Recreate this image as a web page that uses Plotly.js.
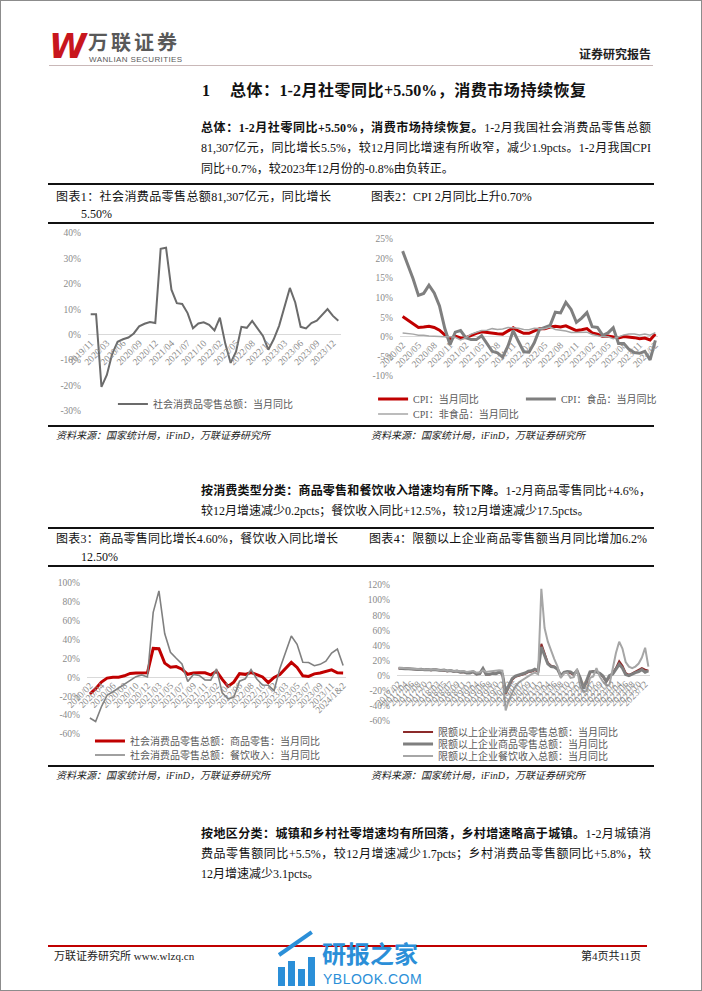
<!DOCTYPE html>
<html><head><meta charset="utf-8">
<script src="https://cdn.plot.ly/plotly-3.0.1.min.js"></script>
<style>
html,body{margin:0;padding:0;background:#fff;}
#page{position:relative;width:702px;height:991px;box-sizing:border-box;border:1px solid #8c8c8c;overflow:hidden;font-family:"Liberation Serif","Noto Sans CJK SC",serif;color:#111;}
.t{position:absolute;white-space:nowrap;}
.j{position:absolute;text-align:justify;text-align-last:justify;}
.rule{position:absolute;left:47px;width:606px;height:2px;background:#111;}
.chart{position:absolute;}
.src{position:absolute;font-size:10px;font-style:italic;line-height:14px;color:#222;white-space:nowrap;}
</style></head>
<body>
<div id="page">
  <!-- header -->
  <div class="t" style="left:48px;top:26px;font-family:'DejaVu Sans';font-weight:bold;font-style:italic;font-size:34px;line-height:38px;color:#c8161d;letter-spacing:-2px;">W</div>
  <div class="t" style="left:87px;top:31px;font-family:'Noto Sans CJK SC';font-weight:bold;font-size:20px;line-height:20px;height:20px;color:#595959;letter-spacing:3px;">万联证券</div>
  <div class="t" style="left:88px;top:55px;font-family:'Liberation Sans';font-size:8px;line-height:8px;height:8px;color:#595959;letter-spacing:0.4px;">WANLIAN SECURITIES</div>
  <div class="t" style="left:578px;top:45px;font-family:'Noto Sans CJK SC';font-weight:bold;font-size:12px;line-height:15px;color:#222;">证券研究报告</div>
  <div style="position:absolute;left:48px;top:64px;width:604px;height:1px;background:#c9b8b8;"></div>

  <!-- section heading -->
  <div class="t" style="left:201px;top:81px;font-size:16px;font-weight:bold;line-height:18px;">1</div>
  <div class="j" style="left:229px;top:81px;width:356px;font-size:16px;font-weight:bold;line-height:18px;">总体：1-2月社零同比+5.50%，消费市场持续恢复</div>

  <!-- paragraph 1 -->
  <div class="j" style="left:200px;top:119px;width:450px;font-size:12px;line-height:16px;"><b>总体：1-2月社零同比+5.50%，消费市场持续恢复。</b>1-2月我国社会消费品零售总额</div>
  <div class="j" style="left:200px;top:139px;width:450px;font-size:12px;line-height:16px;">81,307亿元，同比增长5.5%，较12月同比增速有所收窄，减少1.9pcts。1-2月我国CPI</div>
  <div class="t" style="left:200px;top:160px;font-size:12px;line-height:16px;">同比+0.7%，较2023年12月份的-0.8%由负转正。</div>

  <!-- block 1 -->
  <div class="rule" style="top:182px;"></div>
  <div class="j" style="left:55px;top:188px;width:275px;font-size:12px;line-height:16px;">图表1：社会消费品零售总额81,307亿元，同比增长</div>
  <div class="t" style="left:80px;top:205px;font-size:12px;line-height:16px;">5.50%</div>
  <div class="t" style="left:370px;top:188px;font-size:12px;line-height:16px;">图表2：CPI 2月同比上升0.70%</div>
  <div class="rule" style="top:221px;"></div>
  <div id="c1" class="chart" style="left:40px;top:222px;width:310px;height:200px;"></div>
  <div id="c2" class="chart" style="left:350px;top:222px;width:320px;height:200px;"></div>
  <div class="rule" style="top:424px;"></div>
  <div class="src" style="left:55px;top:428px;">资料来源：国家统计局，iFinD，万联证券研究所</div>
  <div class="src" style="left:370px;top:428px;">资料来源：国家统计局，iFinD，万联证券研究所</div>

  <!-- paragraph 2 -->
  <div class="j" style="left:200px;top:482px;width:450px;font-size:12px;line-height:16px;"><b>按消费类型分类：商品零售和餐饮收入增速均有所下降。</b>1-2月商品零售同比+4.6%，</div>
  <div class="t" style="left:200px;top:502px;font-size:12px;line-height:16px;">较12月增速减少0.2pcts；餐饮收入同比+12.5%，较12月增速减少17.5pcts。</div>

  <!-- block 2 -->
  <div class="rule" style="top:526px;"></div>
  <div class="j" style="left:55px;top:530px;width:282px;font-size:12px;line-height:16px;">图表3：商品零售同比增长4.60%，餐饮收入同比增长</div>
  <div class="t" style="left:80px;top:548px;font-size:12px;line-height:16px;">12.50%</div>
  <div class="j" style="left:368px;top:530px;width:278px;font-size:12px;line-height:16px;">图表4：限额以上企业商品零售额当月同比增加6.2%</div>
  <div class="rule" style="top:564px;"></div>
  <div id="c3" class="chart" style="left:40px;top:566px;width:310px;height:196px;"></div>
  <div id="c4" class="chart" style="left:350px;top:566px;width:320px;height:196px;"></div>
  <div class="rule" style="top:764px;"></div>
  <div class="src" style="left:55px;top:768px;">资料来源：国家统计局，iFinD，万联证券研究所</div>
  <div class="src" style="left:370px;top:768px;">资料来源：国家统计局，iFinD，万联证券研究所</div>

  <!-- paragraph 3 -->
  <div class="j" style="left:200px;top:825px;width:450px;font-size:12px;line-height:16px;"><b>按地区分类：城镇和乡村社零增速均有所回落，乡村增速略高于城镇。</b>1-2月城镇消</div>
  <div class="j" style="left:200px;top:845px;width:450px;font-size:12px;line-height:16px;">费品零售额同比+5.5%，较12月增速减少1.7pcts；乡村消费品零售额同比+5.8%，较</div>
  <div class="t" style="left:200px;top:865px;font-size:12px;line-height:16px;">12月增速减少3.1pcts。</div>

  <!-- footer -->
  <div style="position:absolute;left:47px;top:944px;width:599px;height:2px;background:#c00000;"></div>
  <div class="t" style="left:53px;top:948px;font-size:11px;line-height:14px;color:#222;">万联证券研究所 www.wlzq.cn</div>
  <div class="t" style="left:580px;top:948px;font-size:11px;line-height:14px;color:#222;">第4页共11页</div>

  <!-- watermark -->
  <div style="position:absolute;left:277px;top:966px;width:7px;height:19px;background:#2b8fd8;"></div>
  <div style="position:absolute;left:287px;top:960px;width:7px;height:25px;background:#2b8fd8;"></div>
  <div style="position:absolute;left:297px;top:968px;width:7px;height:17px;background:#2b8fd8;"></div>
  <div style="position:absolute;left:307px;top:956px;width:7px;height:29px;background:#2b8fd8;"></div>
  <div style="position:absolute;left:278px;top:952px;width:40px;height:4px;background:#2b8fd8;transform:rotate(-35deg);transform-origin:left center;"></div>
  <div class="t" style="left:321px;top:938px;font-family:'Noto Sans CJK SC';font-weight:bold;font-size:24px;line-height:27px;color:#2b8fd8;">研报之家</div>
  <div class="t" style="left:322px;top:970px;font-family:'Liberation Sans';font-size:14px;line-height:16px;color:#2b8fd8;letter-spacing:0.5px;">YBLOOK.COM</div>
</div>

<script>
// ---------- Chart 1: 社会消费品零售总额 当月同比 ----------
const cats1 = ['2019/11','2019/12',
 '2020/02','2020/03','2020/04','2020/05','2020/06','2020/07','2020/08','2020/09','2020/10','2020/11','2020/12',
 '2021/02','2021/03','2021/04','2021/05','2021/06','2021/07','2021/08','2021/09','2021/10','2021/11','2021/12',
 '2022/02','2022/03','2022/04','2022/05','2022/06','2022/07','2022/08','2022/09','2022/10','2022/11','2022/12',
 '2023/02','2023/03','2023/04','2023/05','2023/06','2023/07','2023/08','2023/09','2023/10','2023/11','2023/12',
 '2024/02'];
const retail1 = [8.0,8.0,
 -20.5,-15.8,-7.5,-2.8,-1.8,-1.1,0.5,3.3,4.3,5.0,4.6,
 33.8,34.2,17.7,12.4,12.1,8.5,2.5,4.4,4.9,3.9,1.7,
 6.7,-3.5,-11.1,-6.7,3.1,2.7,5.4,2.5,-0.5,-5.9,-1.8,
 3.5,10.6,18.4,12.7,3.1,2.5,4.6,5.5,7.6,10.1,7.4,
 5.5];
const yTicks1 = [-30,-20,-10,0,10,20,30,40];

// ---------- Chart 2: CPI ----------
const cats2 = ['2020/02','2020/03','2020/04','2020/05','2020/06','2020/07','2020/08','2020/09','2020/10','2020/11','2020/12',
 '2021/01','2021/02','2021/03','2021/04','2021/05','2021/06','2021/07','2021/08','2021/09','2021/10','2021/11','2021/12',
 '2022/01','2022/02','2022/03','2022/04','2022/05','2022/06','2022/07','2022/08','2022/09','2022/10','2022/11','2022/12',
 '2023/01','2023/02','2023/03','2023/04','2023/05','2023/06','2023/07','2023/08','2023/09','2023/10','2023/11','2023/12',
 '2024/01','2024/02'];
const cpi2 = [5.2,4.3,3.3,2.4,2.5,2.7,2.4,1.7,0.5,-0.5,0.2,
 -0.3,-0.2,0.4,0.9,1.3,1.1,1.0,0.8,0.7,1.5,2.3,1.5,
 0.9,0.9,1.5,2.1,2.1,2.5,2.7,2.5,2.8,2.1,1.6,1.8,
 2.1,1.0,0.7,0.1,0.2,0.0,-0.3,0.1,0.0,-0.2,-0.5,-0.3,
 -0.8,0.7];
const food2 = [21.9,18.3,14.8,10.6,11.1,13.2,11.2,7.9,2.2,-2.0,1.2,
 1.6,-0.2,-0.7,-0.7,0.3,-1.7,-3.7,-4.1,-5.2,-2.4,1.6,-1.2,
 -3.8,-3.9,-1.5,1.9,2.3,2.9,6.3,6.1,8.8,7.0,3.7,4.8,
 6.2,2.6,2.4,0.4,1.0,2.3,-1.7,-1.7,-3.2,-4.0,-4.2,-3.7,
 -5.9,-0.9];
const nonfood2 = [1.0,0.9,0.7,0.4,0.4,0.2,0.1,0.0,0.0,0.0,-0.1,
 -0.8,-0.2,0.7,1.2,1.6,1.7,2.1,1.9,2.0,2.4,2.3,2.2,
 1.9,1.8,2.2,2.2,2.1,2.5,1.9,1.7,1.5,1.1,1.1,1.1,
 1.2,0.6,0.3,0.0,0.0,-0.5,0.0,0.5,0.7,0.7,0.5,0.7,
 0.4,1.1];
const yTicks2 = [-10,-5,0,5,10,15,20,25];

// ---------- Chart 3: 商品零售 / 餐饮收入 ----------
const cats3 = ['2020/02','2020/03','2020/04','2020/05','2020/06','2020/07','2020/08','2020/09','2020/10','2020/11','2020/12',
 '2021/02','2021/03','2021/04','2021/05','2021/06','2021/07','2021/08','2021/09','2021/10','2021/11','2021/12',
 '2022/02','2022/03','2022/04','2022/05','2022/06','2022/07','2022/08','2022/09','2022/10','2022/11','2022/12',
 '2023/02','2023/03','2023/04','2023/05','2023/06','2023/07','2023/08','2023/09','2023/10','2023/11','2023/12',
 '2024/1&2'];
const goods3 = [-17.6,-12.0,-5.0,-0.8,0.2,0.2,1.7,4.2,4.7,5.2,4.9,
 30.7,30.4,15.1,10.8,11.5,8.7,3.3,4.7,4.8,4.8,2.7,
 6.5,-2.1,-9.7,-5.0,3.9,3.2,5.1,3.0,0.5,-5.6,-0.1,
 2.9,9.1,15.9,10.5,1.7,1.0,3.7,4.6,6.5,8.0,4.8,
 4.6];
const catering3 = [-43.1,-46.8,-31.1,-18.9,-15.2,-11.0,-7.0,-2.9,0.8,2.6,0.4,
 68.9,91.6,46.4,26.6,20.2,14.3,-4.5,3.1,2.0,-2.7,-2.9,
 8.9,-16.4,-22.7,-21.1,-4.0,-1.5,8.4,-1.7,-8.1,-8.4,-14.1,
 9.2,26.3,43.8,35.1,16.1,15.8,12.4,13.8,17.1,25.8,30.0,
 12.5];
const yTicks3 = [-60,-40,-20,0,20,40,60,80,100];

// ---------- Chart 4: 限额以上企业 ----------
const cats4 = ['2017/02','2017/03','2017/04','2017/05','2017/06','2017/07','2017/08','2017/09','2017/10','2017/11','2017/12',
 '2018/02','2018/03','2018/04','2018/05','2018/06','2018/07','2018/08','2018/09','2018/10','2018/11','2018/12',
 '2019/02','2019/03','2019/04','2019/05','2019/06','2019/07','2019/08','2019/09','2019/10','2019/11','2019/12',
 '2020/02','2020/03','2020/04','2020/05','2020/06','2020/07','2020/08','2020/09','2020/10','2020/11','2020/12',
 '2021/02','2021/03','2021/04','2021/05','2021/06','2021/07','2021/08','2021/09','2021/10','2021/11','2021/12',
 '2022/02','2022/03','2022/04','2022/05','2022/06','2022/07','2022/08','2022/09','2022/10','2022/11','2022/12',
 '2023/02','2023/03','2023/04','2023/05','2023/06','2023/07','2023/08','2023/09','2023/10','2023/11','2023/12',
 '2024/02'];
const consumer4 = [9.5,9.8,9.2,9.0,8.5,8.8,8.0,8.3,7.5,7.8,7.2,
 8.0,7.5,6.8,7.2,6.0,6.5,5.5,6.0,4.5,4.8,3.5,
 3.5,5.0,1.8,2.5,9.0,1.2,1.5,2.8,2.5,4.5,2.0,
 -23.7,-15.0,-5.5,-1.5,-0.5,0.7,2.3,4.7,5.5,7.5,5.4,
 42.0,30.0,17.0,13.0,12.0,9.0,-1.0,3.5,4.5,3.5,1.0,
 7.0,-4.5,-15.0,-9.0,4.0,6.0,5.5,2.5,-1.5,-8.0,-2.0,
 2.5,10.0,19.0,13.0,3.5,1.0,3.0,5.0,7.0,10.0,8.0,
 6.5];
const goods4 = [9.8,10.0,9.3,9.2,8.7,9.0,8.2,8.5,7.7,8.0,7.4,
 8.2,7.6,6.8,7.5,6.2,6.8,5.6,6.2,4.7,5.0,3.5,
 3.6,5.3,2.0,2.8,9.5,1.5,1.8,3.0,2.7,4.8,2.3,
 -22.5,-13.0,-4.0,-0.5,0.8,2.0,3.5,5.8,6.5,8.5,6.5,
 38.0,26.0,15.5,12.0,11.5,8.5,0.0,4.5,5.5,5.0,2.0,
 6.5,-3.0,-17.0,-7.0,5.0,5.5,5.0,3.0,-0.5,-7.5,0.0,
 2.0,8.0,15.0,10.0,1.5,0.0,2.5,4.0,5.5,8.0,4.5,
 6.2];
const catering4 = [10.0,10.5,9.8,9.5,9.0,9.5,8.5,9.0,8.0,8.5,8.0,
 8.5,8.0,7.0,7.5,6.5,7.0,6.0,6.5,5.5,6.0,5.0,
 5.5,6.0,4.0,4.5,7.0,5.0,5.5,6.0,6.5,7.0,6.5,
 -46.0,-32.0,-22.0,-14.0,-9.0,-6.0,-3.0,0.0,2.0,4.0,2.0,
 115.0,63.0,45.0,32.0,22.0,12.0,-3.0,3.0,4.0,-3.0,-2.0,
 9.0,-15.0,-22.0,-20.0,-3.0,-1.0,10.0,-1.0,-8.0,-13.0,-12.0,
 8.0,30.0,45.0,36.0,18.0,12.0,10.0,12.0,16.0,24.0,37.0,
 12.0];
const yTicks4 = [-60,-40,-20,0,20,40,60,80,100,120];

// ---------- styling helpers ----------
const SERIF = "'Liberation Serif', 'Noto Sans CJK SC', serif";
const LEGFONT = {family:"'Liberation Serif', 'Noto Sans CJK SC', serif", size:10, color:'#595959'};

function legendAt(x, y){
  return {xref:'container', yref:'container', x:x, y:y, xanchor:'left', yanchor:'middle',
    bgcolor:'rgba(0,0,0,0)', borderwidth:0, orientation:'v', itemwidth:30, font:LEGFONT,
    itemclick:false, itemdoubleclick:false};
}

function makeLayout(o){
  const ymin = o.yticks[0], ymax = o.yticks[o.yticks.length-1];
  return {
    width:o.W, height:o.H,
    margin:{l:o.l, r:o.r, t:o.t, b:o.b, pad:0, autoexpand:false},
    paper_bgcolor:'rgba(0,0,0,0)', plot_bgcolor:'rgba(0,0,0,0)',
    font:{family:SERIF, size:10, color:'#808080'},
    showlegend:true,
    xaxis:{type:'category', range:[-0.5, o.n-0.5], anchor:'free',
      position:(0-ymin)/(ymax-ymin),
      showgrid:false, zeroline:false, showline:false, ticks:'',
      tickangle:-45, tickmode:'linear', tick0:0, dtick:o.dx,
      tickfont:{family:SERIF, size:o.xfs, color:'#8a8a8a'}, fixedrange:true},
    yaxis:{range:[ymin, ymax], tickmode:'array', tickvals:o.yticks,
      ticktext:o.yticks.map(v => v + '%'),
      showgrid:false, zeroline:true, zerolinecolor:'#d9d9d9', zerolinewidth:1,
      showline:false, ticks:'', ticklabelstandoff:6,
      tickfont:{family:SERIF, size:9.5, color:'#8a8a8a'}, fixedrange:true}
  };
}
const CFG = {staticPlot:true, displayModeBar:false};

// Chart 1
(function(){
  const lay = makeLayout({W:310,H:200,l:47,r:10,t:10,b:12,yticks:yTicks1,n:cats1.length,dx:3,xfs:9.5});
  lay.legend = legendAt(0.232, 0.095);
  Plotly.newPlot('c1', [
    {type:'scatter', mode:'lines', x:cats1, y:retail1, name:'社会消费品零售总额：当月同比',
     line:{color:'#6b6b6b', width:2}, hoverinfo:'skip'}
  ], lay, CFG);
})();

// Chart 2
(function(){
  const lay = makeLayout({W:320,H:200,l:49,r:13,t:16,b:47,yticks:yTicks2,n:cats2.length,dx:3,xfs:9.5});
  lay.legend = legendAt(0.069, 0.12);
  lay.legend2 = legendAt(0.531, 0.12);
  lay.legend3 = legendAt(0.069, 0.045);
  Plotly.newPlot('c2', [
    {type:'scatter', mode:'lines', x:cats2, y:cpi2, name:'CPI：当月同比',
     line:{color:'#c00000', width:3}, hoverinfo:'skip', legend:'legend'},
    {type:'scatter', mode:'lines', x:cats2, y:food2, name:'CPI：食品：当月同比',
     line:{color:'#7f7f7f', width:3}, hoverinfo:'skip', legend:'legend2'},
    {type:'scatter', mode:'lines', x:cats2, y:nonfood2, name:'CPI：非食品：当月同比',
     line:{color:'#a6a6a6', width:1.5}, hoverinfo:'skip', legend:'legend3'}
  ], lay, CFG);
})();

// Chart 3
(function(){
  const lay = makeLayout({W:310,H:196,l:46,r:5,t:16,b:29,yticks:yTicks3,n:cats3.length,dx:2,xfs:9.5});
  lay.legend = legendAt(0.158, 0.112);
  lay.legend2 = legendAt(0.158, 0.041);
  Plotly.newPlot('c3', [
    {type:'scatter', mode:'lines', x:cats3, y:goods3, name:'社会消费品零售总额：商品零售：当月同比',
     line:{color:'#c00000', width:3}, hoverinfo:'skip', legend:'legend'},
    {type:'scatter', mode:'lines', x:cats3, y:catering3, name:'社会消费品零售总额：餐饮收入：当月同比',
     line:{color:'#808080', width:1.6}, hoverinfo:'skip', legend:'legend2'}
  ], lay, CFG);
})();

// Chart 4
(function(){
  const lay = makeLayout({W:320,H:196,l:46,r:21,t:18,b:42,yticks:yTicks4,n:cats4.length,dx:2,xfs:9.5});
  lay.legend = legendAt(0.147, 0.158);
  lay.legend2 = legendAt(0.147, 0.097);
  lay.legend3 = legendAt(0.147, 0.036);
  Plotly.newPlot('c4', [
    {type:'scatter', mode:'lines', x:cats4, y:consumer4, name:'限额以上企业消费品零售总额：当月同比',
     line:{color:'#8c2a2a', width:2}, hoverinfo:'skip', legend:'legend'},
    {type:'scatter', mode:'lines', x:cats4, y:goods4, name:'限额以上企业商品零售总额：当月同比',
     line:{color:'#7f7f7f', width:3}, hoverinfo:'skip', legend:'legend2'},
    {type:'scatter', mode:'lines', x:cats4, y:catering4, name:'限额以上企业餐饮收入总额：当月同比',
     line:{color:'#a6a6a6', width:2}, hoverinfo:'skip', legend:'legend3'}
  ], lay, CFG);
})();
</script>
</body></html>
